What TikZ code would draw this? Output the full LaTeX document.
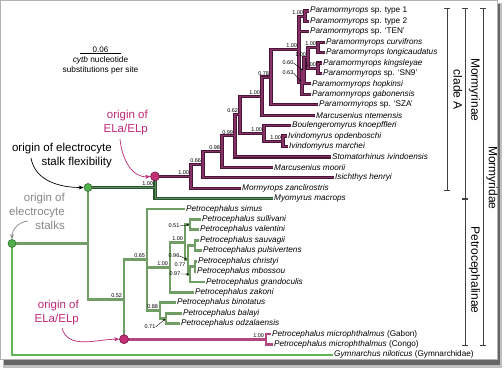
\documentclass[tikz,border=0pt]{standalone}
\usepackage{fontspec}
\setmainfont{Liberation Sans}
\usepackage{tikz}
\usetikzlibrary{positioning, arrows.meta}

\definecolor{plumdark}{RGB}{74,22,55}
\definecolor{plumlight}{RGB}{135,50,102}
\definecolor{myogreen}{RGB}{42,85,48}
\definecolor{myolight}{RGB}{95,140,92}
\definecolor{petrogreen}{RGB}{112,158,100}
\definecolor{rootgreen}{RGB}{96,182,84}
\definecolor{micpink}{RGB}{178,72,130}
\definecolor{elamag}{RGB}{192,40,120}
\definecolor{stalkgray}{RGB}{135,135,135}
\definecolor{dotgreen}{RGB}{84,176,78}
\definecolor{dotgreenrim}{RGB}{40,110,42}
\definecolor{dotpink}{RGB}{196,48,118}
\definecolor{dotpinkrim}{RGB}{120,22,72}

\newcommand{\taxfont}{\fontsize{8.2}{9}\selectfont\itshape}
\newcommand{\suppfont}{\fontsize{5.5}{6}\selectfont}
\newcommand{\notefont}{\fontsize{11.5}{14}\selectfont}
\newcommand{\cladefont}{\fontsize{12}{14}\selectfont}

\begin{document}
\begin{tikzpicture}[x=1pt, y=-1pt,
  taxon/.style={anchor=west, inner sep=1pt, font=\taxfont},
  supp/.style={anchor=south east, inner sep=0pt, xshift=-1.8pt, yshift=1.6pt, font=\suppfont},
  suppat/.style={inner sep=0pt, font=\suppfont},
  suppline/.style={draw=black, line width=0.4pt, -{Stealth[length=2.5pt, width=2pt]}, shorten >=1pt},
  mor/.style={draw=plumlight, line width=1.1pt, preaction={draw=plumdark, line width=3.2pt}},
  myo/.style={draw=myolight, line width=1pt, preaction={draw=myogreen, line width=3.2pt}},
  petro/.style={draw=petrogreen, line width=2.8pt},
  mic/.style={draw=micpink, line width=2.6pt},
  rootline/.style={draw=rootgreen, line width=1.6pt},
  greendot/.style={circle, fill=dotgreen, draw=dotgreenrim, line width=0.6pt, inner sep=0pt, minimum size=8pt},
  pinkdot/.style={circle, fill=dotpink, draw=dotpinkrim, line width=0.6pt, inner sep=0pt, minimum size=9pt},
  note/.style={align=right, anchor=east, inner sep=0pt, font=\notefont},
  notearrow/.style={line width=0.7pt, -{Stealth[length=5pt, width=4pt]}},
  bracket/.style={draw=black!75, line width=0.7pt, {Bar[width=6pt]}-{Bar[width=6pt]}},
  clade/.style={rotate=-90, inner sep=0pt, font=\cladefont}]

% frame with shadow
\fill[white] (0,0) rectangle (504,369);
\fill[black!25] (3,358) rectangle (502,368);
\fill[black!25] (496,3) rectangle (502,368);
\fill[black!60] (4,359) rectangle (500,365);
\fill[black!60] (497,4) rectangle (500,365);
\fill[white] (0,0) rectangle (497,359);
\draw[black!30, line width=0.5pt] (0.25,0.25) rectangle (497,359);

% scale bar
\coordinate (sbL) at (80,53.3);
\coordinate (sbR) at (121,53.3);
\coordinate (sbMid) at (100.5,53.3);
\draw[line width=1.2pt] (sbL) -- (sbR);
\node[above=0.5pt of sbMid, inner sep=0pt, font=\fontsize{8}{9}\selectfont] (sbVal) {0.06};
\node[below=3pt of sbMid, inner sep=0pt, align=center, font=\fontsize{8.3}{10}\selectfont] (sbTxt)
  {\textit{cytb} nucleotide\\substitutions per site};

% taxa
\node[taxon] (paType1) at (309,11.0) {Paramormyrops \textup{sp. type 1}};
\node[taxon] (paType2) at (309,21.4) {Paramormyrops \textup{sp. type 2}};
\node[taxon] (paTEN) at (309,31.8) {Paramormyrops \textup{sp. `TEN'}};
\node[taxon] (paCurv) at (325,42.3) {Paramormyrops curvifrons};
\node[taxon] (paLong) at (325,52.7) {Paramormyrops longicaudatus};
\node[taxon] (paKing) at (322,63.1) {Paramormyrops kingsleyae};
\node[taxon] (paSN9) at (322,73.5) {Paramormyrops \textup{sp. `SN9'}};
\node[taxon] (paHop) at (311,83.9) {Paramormyrops hopkinsi};
\node[taxon] (paGab) at (311,94.4) {Paramormyrops gabonensis};
\node[taxon] (paSZA) at (318,104.8) {Paramormyrops \textup{sp. `SZA'}};
\node[taxon] (maNtem) at (315,115.2) {Marcusenius ntemensis};
\node[taxon] (boKnoe) at (291,125.6) {Boulengeromyrus knoepffleri};
\node[taxon] (ivOpd) at (287,136.0) {Ivindomyrus opdenboschi};
\node[taxon] (ivMar) at (288,146.5) {Ivindomyrus marchei};
\node[taxon] (stIvi) at (331,156.9) {Stomatorhinus ivindoensis};
\node[taxon] (maMoo) at (273,167.3) {Marcusenius moorii};
\node[taxon] (isHen) at (334,177.7) {Isichthys henryi};
\node[taxon] (moZan) at (241,188.1) {Mormyrops zanclirostris};
\node[taxon] (myMac) at (273,198.6) {Myomyrus macrops};
\node[taxon] (peSim) at (185,209.0) {Petrocephalus simus};
\node[taxon] (peSul) at (201,219.4) {Petrocephalus sullivani};
\node[taxon] (peVal) at (199,229.8) {Petrocephalus valentini};
\node[taxon] (peSau) at (199,240.2) {Petrocephalus sauvagii};
\node[taxon] (pePul) at (202,250.6) {Petrocephalus pulsivertens};
\node[taxon] (peChr) at (197,261.1) {Petrocephalus christyi};
\node[taxon] (peMbo) at (196,271.5) {Petrocephalus mbossou};
\node[taxon] (peGra) at (205,281.9) {Petrocephalus grandoculis};
\node[taxon] (peZak) at (194,292.3) {Petrocephalus zakoni};
\node[taxon] (peBin) at (176,302.7) {Petrocephalus binotatus};
\node[taxon] (peBal) at (182,313.2) {Petrocephalus balayi};
\node[taxon] (peOdz) at (180,323.6) {Petrocephalus odzalaensis};
\node[taxon] (peMicG) at (271,334.0) {Petrocephalus microphthalmus \textup{(Gabon)}};
\node[taxon] (peMicC) at (273,344.4) {Petrocephalus microphthalmus \textup{(Congo)}};
\node[taxon] (gyNil) at (333,354.8) {Gymnarchus niloticus \textup{(Gymnarchidae)}};

% internal nodes, Mormyrinae
\coordinate (nT12) at (305,16.2);
\coordinate (nCL) at (318,47.5);
\coordinate (nKS) at (318,68.3);
\coordinate (nCK) at (308,57.9);
\coordinate (nHop) at (304,70.9);
\coordinate (nHG) at (302,82.6);
\coordinate (nPar) at (299,49.4);
\coordinate (n078) at (271,77.1);
\coordinate (n100a) at (262,96.2);
\coordinate (nIvi) at (283,141.2);
\coordinate (nBI) at (264,133.4);
\coordinate (n062) at (240,114.8);
\coordinate (n099) at (235,135.9);
\coordinate (n098) at (222,151.6);
\coordinate (n066) at (203,164.7);
\coordinate (n100b) at (191,176.4);
\coordinate (elaA) at (155,176.4);
\coordinate (nMyo) at (155,187.5);
\coordinate (flex) at (88,187.5);
% internal nodes, Petrocephalinae
\coordinate (nSV) at (190,224.6);
\coordinate (nSP) at (195,245.4);
\coordinate (nCM) at (195,266.3);
\coordinate (nCMG) at (190,274.1);
\coordinate (n096) at (188,259.8);
\coordinate (nA) at (185,242.2);
\coordinate (nB) at (170,267.3);
\coordinate (n071) at (166,318.4);
\coordinate (n088) at (160,310.6);
\coordinate (n065) at (147,259.8);
\coordinate (elaB) at (124,339.2);
\coordinate (n052) at (124,299.5);
\coordinate (nMic) at (266,339.2);
\coordinate (nRoot) at (88,243.5);
\coordinate (stalks) at (12,243.5);

% branches
\draw[rootline] (stalks) |- (gyNil.west);
\draw[petro] (nSV) |- (peSul.west) (nSV) |- (peVal.west)
  (nSP) |- (peSau.west) (nSP) |- (pePul.west)
  (nCM) |- (peChr.west) (nCM) |- (peMbo.west)
  (nCMG) |- (nCM) (nCMG) |- (peGra.west)
  (n096) |- (nSP) (n096) |- (nCMG)
  (nA) |- (nSV) (nA) |- (n096)
  (nB) |- (nA) (nB) |- (peZak.west)
  (n071) |- (peBal.west) (n071) |- (peOdz.west)
  (n088) |- (peBin.west) (n088) |- (n071)
  (n065) |- (peSim.west) (n065) |- (nB) (n065) |- (n088)
  (n052) |- (n065) (n052) |- (elaB)
  (nRoot) |- (flex) (nRoot) |- (n052)
  (stalks) -- (nRoot);
\draw[mic] (elaB) -- (nMic) (nMic) |- (peMicG.west) (nMic) |- (peMicC.west);
\draw[myo] (flex) -- (nMyo) (nMyo) |- (elaA) (nMyo) |- (myMac.west);
\draw[mor] (nT12) |- (paType1.west) (nT12) |- (paType2.west)
  (nCL) |- (paCurv.west) (nCL) |- (paLong.west)
  (nKS) |- (paKing.west) (nKS) |- (paSN9.west)
  (nCK) |- (nCL) (nCK) |- (nKS)
  (nHop) |- (nCK) (nHop) |- (paHop.west)
  (nHG) |- (nHop) (nHG) |- (paGab.west)
  (nPar) |- (nT12) (nPar) |- (paTEN.west) (nPar) |- (nHG)
  (n078) |- (nPar) (n078) |- (paSZA.west)
  (n100a) |- (n078) (n100a) |- (maNtem.west)
  (nIvi) |- (ivOpd.west) (nIvi) |- (ivMar.west)
  (nBI) |- (boKnoe.west) (nBI) |- (nIvi)
  (n062) |- (n100a) (n062) |- (nBI)
  (n099) |- (n062) (n099) |- (stIvi.west)
  (n098) |- (n099) (n098) |- (maMoo.west)
  (n066) |- (n098) (n066) |- (isHen.west)
  (n100b) |- (n066) (n100b) |- (moZan.west)
  (elaA) -- (n100b);

% dots
\node[greendot] (stalksDot) at (stalks) {};
\node[greendot] (flexDot) at (flex) {};
\node[pinkdot] (elaADot) at (elaA) {};
\node[pinkdot] (elaBDot) at (elaB) {};

% support values
\node[supp] (sT12) at (nT12) {1.00};
\node[supp] (sCL) at (nCL) {1.00};
\node[supp] (sKS) at (nKS) {1.00};
\node[supp] (sCK) at (nCK) {1.00};
\node[supp] (sPar) at (nPar) {1.00};
\node[supp] (s078) at (n078) {0.78};
\node[supp] (s100a) at (n100a) {1.00};
\node[supp] (sIvi) at (nIvi) {1.00};
\node[supp] (sBI) at (nBI) {1.00};
\node[supp] (s062) at (n062) {0.62};
\node[supp] (s099) at (n099) {0.99};
\node[supp] (s098) at (n098) {0.98};
\node[supp] (s066) at (n066) {0.66};
\node[supp] (s100b) at (n100b) {1.00};
\node[supp] (sMyo) at (nMyo) {1.00};
\node[supp] (sA) at (nA) {1.00};
\node[supp] (sB) at (nB) {1.00};
\node[supp] (s088) at (n088) {0.88};
\node[supp] (s065) at (n065) {0.65};
\node[supp] (s052) at (n052) {0.52};
\node[supp] (sMic) at (nMic) {1.00};
\node[suppat] (s060) at (288,63) {0.60};
\node[suppat] (s063) at (288,73) {0.63};
\node[suppat] (s051) at (174,226) {0.51};
\node[suppat] (s096) at (174,256) {0.96};
\node[suppat] (s077) at (180,265) {0.77};
\node[suppat] (s097) at (175,274) {0.97};
\node[suppat] (s071) at (150,327) {0.71};
\draw[suppline] (s060.east) -- (nHop);
\draw[suppline] (s063.east) -- (nHG);
\draw[suppline] (s051.east) -- (nSV);
\draw[suppline] (s096.east) -- (n096);
\draw[suppline] (s097.east) -- (nCMG);
\draw[suppline] (s071.east) -- (n071);

% notes
\node[note] (flexTxt) at (112,155.5) {origin of electrocyte\\stalk flexibility};
\node[note, text=elamag] (elaATxt) at (148,122.5) {origin of\\ELa/ELp};
\node[note, text=stalkgray] (stalksTxt) at (65,211) {origin of\\electrocyte\\stalks};
\node[note, text=elamag] (elaBTxt) at (79,313) {origin of\\ELa/ELp};
\coordinate (flexStart) at (31,158);
\coordinate (elaAStart) at (120,139);
\coordinate (stalksStart) at (28,221);
\coordinate (elaBStart) at (62,328);
\draw[notearrow] (flexStart) to[out=-80, in=180] (flexDot.west);
\draw[notearrow, elamag] (elaAStart) to[out=-85, in=185] (elaADot.west);
\draw[notearrow, stalkgray] (stalksStart) to[out=185, in=90] (stalksDot.north);
\draw[notearrow, elamag] (elaBStart) to[out=-75, in=180] (elaBDot.west);

% clade brackets
\coordinate (cladeAtop) at (447,8);
\coordinate (cladeAbot) at (447,191);
\coordinate (morTop) at (465,8);
\coordinate (morBot) at (465,199);
\coordinate (petBot) at (465,346);
\coordinate (famTop) at (483,8);
\coordinate (famBot) at (483,346);
\draw[bracket] (cladeAtop) -- (cladeAbot);
\draw[bracket] (morTop) -- (morBot);
\draw[bracket] (morBot) -- (petBot);
\draw[bracket] (famTop) -- (famBot);
\node[clade] (cladeALab) at (458,90) {clade A};
\node[clade] (morLab) at (474.5,90) {Mormyrinae};
\node[clade] (petLab) at (474.5,270) {Petrocephalinae};
\node[clade] (famLab) at (492,178) {Mormyridae};

\useasboundingbox (0,0) rectangle (504,369);
\end{tikzpicture}
\end{document}
